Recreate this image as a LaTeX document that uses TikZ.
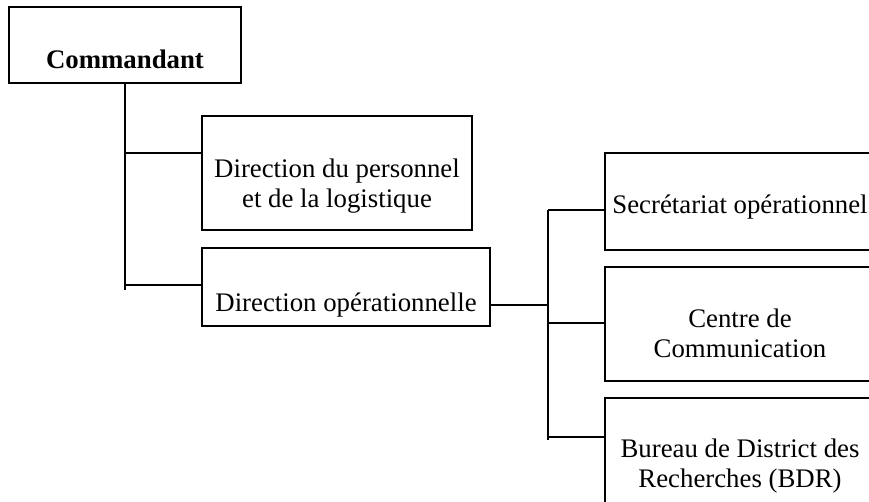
\documentclass[tikz,border=0pt]{standalone}
\usepackage{fontspec}
\setmainfont{Liberation Serif}
\begin{document}
\begin{tikzpicture}[x=1pt, y=-1pt,
    box/.style={draw, line width=1.2pt, inner sep=0pt, align=center,
                font=\fontsize{26.8}{30}\selectfont},
    link/.style={line width=1.8pt}]
  \clip (0,0) rectangle (869,501);
  % boxes
  \node (cmd) [box, font=\fontsize{26.8}{30}\selectfont\bfseries, minimum width=232pt,
               text height=61pt, text depth=15pt] at (125,45) {Commandant};
  \node (pers) [box, line width=2pt, minimum width=270pt,
                text height=91pt, text depth=23pt] at (337,173)
                {Direction du personnel\\et de la logistique};
  \node (oper) [box, minimum width=288pt,
                text height=63pt, text depth=15pt] at (346,287) {Direction opérationnelle};
  \node (secr) [box, minimum width=270pt,
                text height=60pt, text depth=37pt] at (740,201.5) {Secrétariat opérationnel};
  \node (centre) [box, minimum width=270pt,
                  text height=90pt, text depth=24pt] at (740,324) {Centre de\\Communication};
  \node (bdr) [box, minimum width=270pt,
               text height=89pt, text depth=25pt] at (740,455)
               {Bureau de District des\\Recherches (BDR)};
  % links
  \coordinate (jp) at (125,153);
  \coordinate (jo) at (125,285);
  \coordinate (jend) at (125,290);
  \coordinate (ko) at (548,305);
  \coordinate (ks) at (548,210);
  \coordinate (kc) at (548,323);
  \coordinate (kb) at (548,437);
  \coordinate (kend) at (548,440);
  \draw[link] (cmd.south) -- (jend)
              (jp) -- (jp -| pers.west)
              (jo) -- (jo -| oper.west);
  \draw[link] (oper.east |- ko) -- (ko)
              (ks) -- (kend)
              (ks) -- (ks -| secr.west)
              (kc) -- (kc -| centre.west)
              (kb) -- (kb -| bdr.west);
\end{tikzpicture}
\end{document}
